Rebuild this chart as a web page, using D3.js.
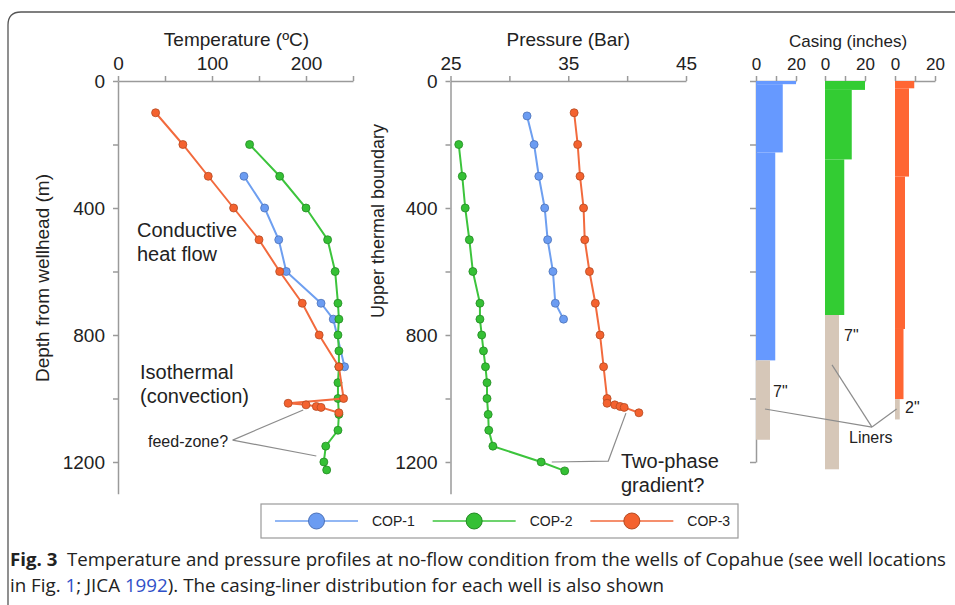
<!DOCTYPE html>
<html>
<head>
  <title>Copahue wells profiles</title>
  <script src="https://cdn.jsdelivr.net/npm/d3@7"></script>
  <style type="text/css">
    html, body { margin: 0; padding: 0; background: #fff; }
    svg { display: block; font-family: "Liberation Sans", Arial, sans-serif; }
    .axis path, .axis line { stroke: #9a9a9a; stroke-width: 1.5px; }
    .axis text { font-size: 19px; fill: #222; font-family: "Liberation Sans", Arial, sans-serif; }
    .casing .axis text { font-size: 17px; }
    .lbl { fill: #222; }
    .lead { fill: none; stroke: #8c8c8c; stroke-width: 1.2px; }
  </style>
</head>
<body>
  <svg class="svg" width="955" height="605"></svg>
  <script type="text/javascript">
    // temperature profiles (depth m, temperature ºC)
    var depthCop1T = [300, 400, 500, 600, 700, 750, 900];
    var tempCop1 = [134, 156, 171, 179, 216, 229, 241];
    var depthCop2T = [200, 300, 400, 500, 600, 700, 750, 800, 850, 900, 950, 1000, 1050, 1100, 1150, 1200, 1225];
    var tempCop2 = [140, 172, 200, 223, 231, 234, 235, 234, 235, 235, 234, 234, 235, 234, 221, 219, 222];
    var depthCop3T = [100, 200, 300, 400, 500, 600, 700, 800, 900, 1000, 1015, 1020, 1025, 1028, 1045];
    var tempCop3 = [40, 69, 96, 123, 150, 172, 196, 214, 235, 240, 181, 200, 211, 216, 235];

    // pressure profiles (depth m, pressure bar)
    var depthCop1P = [110, 200, 300, 400, 500, 600, 700, 750];
    var presCop1 = [31.5, 32.1, 32.5, 33.0, 33.25, 33.7, 33.9, 34.6];
    var depthCop2P = [200, 300, 400, 500, 600, 700, 750, 800, 850, 900, 950, 1000, 1050, 1100, 1150, 1200, 1228];
    var presCop2 = [25.7, 26.0, 26.25, 26.6, 26.9, 27.5, 27.5, 27.65, 27.8, 27.97, 28.1, 28.1, 28.2, 28.25, 28.6, 32.7, 34.7];
    var depthCop3P = [100, 200, 300, 400, 500, 600, 700, 800, 900, 1000, 1015, 1020, 1025, 1028, 1045];
    var presCop3 = [35.5, 35.8, 36.0, 36.3, 36.4, 36.8, 37.3, 37.7, 38.0, 38.3, 38.3, 38.95, 39.4, 39.75, 41.0];

    // casing strings: top depth, bottom depth, diameter (inches)
    var casingCop1 = [[0, 10, 20], [10, 225, 13.375], [225, 880, 9.625]];
    var linerCop1 = [[880, 1130, 7]];
    var casingCop2 = [[0, 28, 20], [28, 247, 13.375], [247, 737, 9.625]];
    var linerCop2 = [[737, 1223, 7]];
    var casingCop3 = [[0, 23, 9.625], [23, 301, 7], [301, 781, 5], [781, 1002, 4.25]];
    var linerCop3 = [[1002, 1066, 2.375]];

    var wells = ['COP-1', 'COP-2', 'COP-3'];
    var lineColors = ['#6e9ff0', '#3cc43c', '#f26a3d'];
    var dotColors = ['#6b9cf2', '#35c035', '#f4622f'];
    var dotStrokes = ['#4d72b8', '#238a23', '#b44a22'];
    var casingColors = ['#6699ff', '#33cc33', '#ff6633'];
    var linerColor = '#d6c7b8';

    var tempTicks = [0, 50, 100, 150, 200, 250];
    var tempLabels = [0, 100, 200];
    var presTicks = [25, 30, 35, 40, 45];
    var presLabels = [25, 35, 45];
    var depthTicks = [0, 200, 400, 600, 800, 1000, 1200];
    var depthLabels = [0, 400, 800, 1200];
    var casingTicks = [0, 10, 20];
    var casingLabels = [0, 20];

    var svg = d3.select('.svg');
    var yTop = 81;

    var yScale = d3.scaleLinear().domain([0, 1300]).range([yTop, yTop + 1300 * 0.3175]);
    var yCasing = d3.scaleLinear().domain([0, 1200]).range([yTop, yScale(1200)]);
    var xTemp = d3.scaleLinear().domain([0, 250]).range([118, 353]);
    var xPres = d3.scaleLinear().domain([25, 45]).range([450.5, 686]);
    var casingX0 = [756, 825, 895];
    var xCasing = casingX0.map(x0 => d3.scaleLinear().domain([0, 20]).range([x0, x0 + 40]));

    // frame
    svg.append('path')
      .attr('d', 'M8,610 L8,25 Q8,12 21,12 L960,12')
      .attr('fill', 'none')
      .attr('stroke', '#555')
      .attr('stroke-width', 1.3);

    function topAxis(scale, ticks, labels) {
      return d3.axisTop(scale)
        .tickValues(ticks)
        .tickSizeInner(5)
        .tickSizeOuter(0)
        .tickPadding(6)
        .tickFormat(d => labels.indexOf(d) >= 0 ? d : '');
    }

    function leftAxis(scale, labels) {
      return d3.axisLeft(scale)
        .tickValues(depthTicks)
        .tickSizeInner(5)
        .tickSizeOuter(0)
        .tickPadding(8)
        .tickFormat(d => labels.indexOf(d) >= 0 ? d : '');
    }

    // temperature panel
    svg.append('g').attr('class', 'axis')
      .attr('transform', `translate(0, ${yTop})`)
      .call(topAxis(xTemp, tempTicks, tempLabels));
    svg.append('g').attr('class', 'axis')
      .attr('transform', `translate(${xTemp(0)}, 0)`)
      .call(leftAxis(yScale, depthLabels));

    // pressure panel
    svg.append('g').attr('class', 'axis')
      .attr('transform', `translate(0, ${yTop})`)
      .call(topAxis(xPres, presTicks, presLabels));
    svg.append('g').attr('class', 'axis')
      .attr('transform', `translate(${xPres(25)}, 0)`)
      .call(leftAxis(yScale, depthLabels));

    // titles
    svg.append('text').attr('class', 'lbl')
      .attr('x', (xTemp(0) + xTemp(250)) / 2 + 1).attr('y', 46)
      .attr('text-anchor', 'middle').style('font-size', '19px')
      .text('Temperature (ºC)');
    svg.append('text').attr('class', 'lbl')
      .attr('x', xPres(35)).attr('y', 46)
      .attr('text-anchor', 'middle').style('font-size', '19px')
      .text('Pressure (Bar)');
    svg.append('text').attr('class', 'lbl')
      .attr('transform', 'translate(49, 278) rotate(-90)')
      .attr('text-anchor', 'middle').style('font-size', '19px')
      .text('Depth from wellhead (m)');
    svg.append('text').attr('class', 'lbl')
      .attr('transform', 'translate(384, 221) rotate(-90)')
      .attr('text-anchor', 'middle').style('font-size', '18px')
      .text('Upper thermal boundary');

    // profiles
    var tempSeries = [
      d3.zip(depthCop1T, tempCop1),
      d3.zip(depthCop2T, tempCop2),
      d3.zip(depthCop3T, tempCop3)
    ];
    var presSeries = [
      d3.zip(depthCop1P, presCop1),
      d3.zip(depthCop2P, presCop2),
      d3.zip(depthCop3P, presCop3)
    ];

    function drawProfiles(series, xScale, cls) {
      var line = d3.line()
        .x(d => xScale(d[1]))
        .y(d => yScale(d[0]));

      var g = svg.selectAll('g.' + cls)
        .data(series)
        .enter()
        .append('g')
        .attr('class', cls);

      g.append('path')
        .attr('fill', 'none')
        .attr('stroke', (d, i) => lineColors[i])
        .attr('stroke-width', 2)
        .attr('d', d => line(d));

      g.each(function (d, i) {
        d3.select(this).selectAll('circle')
          .data(d)
          .enter()
          .append('circle')
          .attr('cx', p => xScale(p[1]))
          .attr('cy', p => yScale(p[0]))
          .attr('r', 4)
          .attr('fill', dotColors[i])
          .attr('stroke', dotStrokes[i])
          .attr('stroke-width', 0.8);
      });
    }

    drawProfiles(tempSeries, xTemp, 'tprof');
    drawProfiles(presSeries, xPres, 'pprof');

    // annotations
    function textLines(x, y, lines, size) {
      var t = svg.append('text').attr('class', 'lbl').style('font-size', size + 'px');
      lines.forEach((s, i) => {
        t.append('tspan').attr('x', x).attr('y', y + i * 23.5).text(s);
      });
    }
    textLines(137, 237, ['Conductive', 'heat flow'], 20);
    textLines(140, 379, ['Isothermal', '(convection)'], 20);
    textLines(148, 447, ['feed-zone?'], 16);
    textLines(621, 468, ['Two-phase', 'gradient?'], 20);

    var feedFrom = [1131, 122];
    var feedTo = [[1036, 197], [1181, 211]];
    feedTo.forEach(p => {
      svg.append('path').attr('class', 'lead')
        .attr('d', d3.line()([[xTemp(feedFrom[1]), yScale(feedFrom[0])], [xTemp(p[1]), yScale(p[0])]]));
    });

    var twoPhase = [[1200, 33.6], [1197, 38.4], [1046, 39.9]];
    svg.append('path').attr('class', 'lead')
      .attr('d', d3.line().x(d => xPres(d[1])).y(d => yScale(d[0]))(twoPhase));

    // casing panel
    var cg = svg.append('g').attr('class', 'casing');
    cg.append('text').attr('class', 'lbl')
      .attr('x', 848).attr('y', 47)
      .attr('text-anchor', 'middle').style('font-size', '17px')
      .text('Casing (inches)');

    xCasing.forEach(sc => {
      cg.append('g').attr('class', 'axis')
        .attr('transform', `translate(0, ${yTop})`)
        .call(d3.axisTop(sc)
          .tickValues(casingTicks)
          .tickSizeInner(5)
          .tickSizeOuter(0)
          .tickPadding(6)
          .tickFormat(d => casingLabels.indexOf(d) >= 0 ? d : ''));
    });

    cg.append('g').attr('class', 'axis')
      .attr('transform', `translate(${casingX0[0]}, 0)`)
      .call(d3.axisLeft(yCasing)
        .tickValues(depthTicks)
        .tickSizeInner(6)
        .tickSizeOuter(0)
        .tickFormat(''));

    var casings = [casingCop1, casingCop2, casingCop3];
    var liners = [linerCop1, linerCop2, linerCop3];

    casings.forEach((c, i) => {
      cg.selectAll('rect.c' + i)
        .data(c)
        .enter()
        .append('rect')
        .attr('class', 'c' + i)
        .attr('x', xCasing[i](0))
        .attr('y', d => yCasing(d[0]))
        .attr('width', d => xCasing[i](d[2]) - xCasing[i](0))
        .attr('height', d => yCasing(d[1]) - yCasing(d[0]))
        .attr('fill', casingColors[i]);
    });

    liners.forEach((c, i) => {
      cg.selectAll('rect.l' + i)
        .data(c)
        .enter()
        .append('rect')
        .attr('class', 'l' + i)
        .attr('x', xCasing[i](0))
        .attr('y', d => yCasing(d[0]))
        .attr('width', d => xCasing[i](d[2]) - xCasing[i](0))
        .attr('height', d => yCasing(d[1]) - yCasing(d[0]))
        .attr('fill', linerColor);
    });

    // liner labels and leaders
    var linerText = ['7"', '7"', '2"'];
    var linerTextAt = [[995, 8.5], [820, 9.5], [1045, 5]];
    linerTextAt.forEach((p, i) => {
      cg.append('text').attr('class', 'lbl')
        .attr('x', xCasing[i](p[1])).attr('y', yCasing(p[0]))
        .style('font-size', '16px')
        .text(linerText[i]);
    });

    var linersHub = [1090, 23.5, 1];
    var linerAnchors = [[1033, 4.5, 0], [894, 3.5, 1], [1033, 0.8, 2]];
    linerAnchors.forEach(p => {
      cg.append('path').attr('class', 'lead')
        .attr('d', d3.line()([
          [xCasing[p[2]](p[1]), yCasing(p[0])],
          [xCasing[linersHub[2]](linersHub[1]), yCasing(linersHub[0])]
        ]));
    });
    cg.append('text').attr('class', 'lbl')
      .attr('x', xCasing[1](12)).attr('y', yCasing(1140))
      .style('font-size', '16px')
      .text('Liners');

    // legend
    var legend = svg.append('g').attr('class', 'legend');
    legend.append('rect')
      .attr('x', 261).attr('y', 504)
      .attr('width', 477).attr('height', 34)
      .attr('fill', '#fff')
      .attr('stroke', '#9a9a9a')
      .attr('stroke-width', 1.2);

    var legendX = d3.scaleBand().domain(wells).range([275, 748]);
    var item = legend.selectAll('g.item')
      .data(wells)
      .enter()
      .append('g')
      .attr('class', 'item')
      .attr('transform', d => `translate(${legendX(d)}, 521)`);

    item.append('line')
      .attr('x1', 0).attr('x2', 83)
      .attr('stroke', (d, i) => lineColors[i])
      .attr('stroke-width', 1.6);
    item.append('circle')
      .attr('cx', 41.5).attr('r', 8)
      .attr('fill', (d, i) => dotColors[i])
      .attr('stroke', (d, i) => dotStrokes[i])
      .attr('stroke-width', 1);
    item.append('text').attr('class', 'lbl')
      .attr('x', 97).attr('y', 5)
      .style('font-size', '14px')
      .text(d => d);

    // caption
    var cap1 = svg.append('text')
      .attr('x', 10).attr('y', 566)
      .attr('textLength', 936)
      .attr('lengthAdjust', 'spacingAndGlyphs')
      .style('font-family', '"Open Sans", "Noto Sans", sans-serif')
      .style('font-size', '18px')
      .attr('fill', '#222');
    cap1.append('tspan').style('font-weight', 'bold').text('Fig. 3');
    cap1.append('tspan').text('\u00a0 Temperature and pressure profiles at no-flow condition from the wells of Copahue (see well locations');

    var cap2 = svg.append('text')
      .attr('x', 10).attr('y', 592)
      .attr('textLength', 654)
      .attr('lengthAdjust', 'spacingAndGlyphs')
      .style('font-family', '"Open Sans", "Noto Sans", sans-serif')
      .style('font-size', '18px')
      .attr('fill', '#222');
    cap2.append('tspan').text('in Fig. ');
    cap2.append('tspan').attr('fill', '#3050c8').text('1');
    cap2.append('tspan').text('; JICA ');
    cap2.append('tspan').attr('fill', '#3050c8').text('1992');
    cap2.append('tspan').text('). The casing-liner distribution for each well is also shown');
  </script>
</body>
</html>
